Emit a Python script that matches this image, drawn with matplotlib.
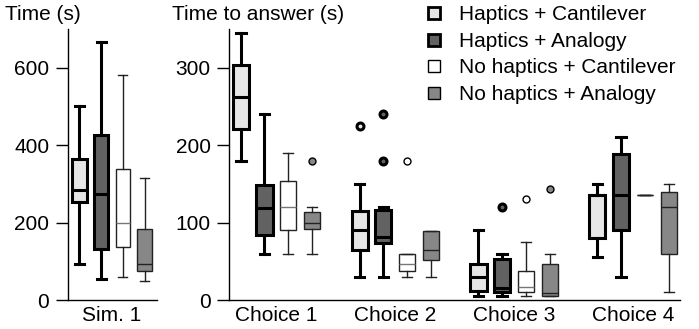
import matplotlib.pyplot as plt
from matplotlib.lines import Line2D

plt.rcParams['font.family'] = ['Liberation Sans', 'DejaVu Sans']

# Conditions (order inside each group)
conditions = ["Haptics + Cantilever", "Haptics + Analogy",
              "No haptics + Cantilever", "No haptics + Analogy"]
fills = ["#e6e6e6", "#626262", "#ffffff", "#878787"]
thick = [True, True, False, False]

# Box statistics: [whislo, q1, med, q3, whishi]
sim1_stats = [[94, 253, 283, 364, 500],
              [55, 131, 274, 427, 667],
              [60, 137, 200, 339, 582],
              [48, 75, 93, 183, 315]]
sim1_fliers = [[], [], [], []]

choice_labels = ["Choice 1", "Choice 2", "Choice 3", "Choice 4"]
choice_stats = [
    [[180, 221, 262, 303, 345],
     [60, 84, 119, 149, 240],
     [60, 90, 120, 154, 190],
     [60, 92, 100, 114, 120]],
    [[30, 64, 90, 115, 150],
     [30, 74, 82, 116, 120],
     [30, 37, 47, 60, 60],
     [30, 52, 64, 89, 89]],
    [[5, 12, 30, 47, 90],
     [5, 10, 15, 53, 60],
     [5, 10, 17, 37, 75],
     [5, 5, 9, 47, 59]],
    [[55, 80, 135, 135, 150],
     [30, 90, 135, 188, 210],
     [135, 135, 135, 135, 135],
     [10, 59, 120, 140, 150]],
]
choice_fliers = [
    [[], [], [], [180]],
    [[225], [180, 240], [180], []],
    [[], [120], [130], [144]],
    [[], [], [], []],
]

offsets = [-0.3, -0.1, 0.1, 0.3]
box_w = 0.135
FS = 15


def draw_group(ax, center, stats, fliers):
    for k in range(4):
        lo, q1, med, q3, hi = stats[k]
        s = dict(whislo=lo, q1=q1, med=med, q3=q3, whishi=hi, fliers=fliers[k])
        lw = 2.2 if thick[k] else 1.0
        ec = "black" if thick[k] else "#222222"
        medc = "#777777" if k == 2 else ec
        if q1 == q3:
            medc = ec
        ax.bxp([s], positions=[center + offsets[k]], widths=box_w,
               patch_artist=True, showfliers=True, capwidths=box_w * 0.6,
               boxprops=dict(facecolor=fills[k], edgecolor=ec, linewidth=lw),
               whiskerprops=dict(color=ec, linewidth=lw),
               capprops=dict(color=ec, linewidth=lw),
               medianprops=dict(color=medc, linewidth=lw),
               flierprops=dict(marker="o", markersize=5, markerfacecolor=fills[k],
                               markeredgecolor="black", markeredgewidth=lw))


def style(ax):
    for sp in ["top", "right"]:
        ax.spines[sp].set_visible(False)
    ax.spines["left"].set_linewidth(1.0)
    ax.spines["bottom"].set_linewidth(1.0)
    ax.tick_params(axis="y", direction="out", length=8.5, width=1.0,
                   labelsize=FS, pad=5)
    ax.tick_params(axis="x", length=0, labelsize=FS, pad=4)


fig = plt.figure(figsize=(6.99, 3.29), dpi=100)

ax1 = fig.add_axes([68 / 699, 29 / 329, 89 / 699, 271 / 329])
draw_group(ax1, 1, sim1_stats, sim1_fliers)
ax1.set_xlim(0.596, 1.413)
ax1.set_ylim(0, 700)
ax1.set_yticks([0, 200, 400, 600])
ax1.set_xticks([1])
ax1.set_xticklabels(["Sim. 1"])
style(ax1)

ax2 = fig.add_axes([229.3 / 699, 29 / 329, 450.7 / 699, 271 / 329])
for i in range(4):
    draw_group(ax2, i + 1, choice_stats[i], choice_fliers[i])
ax2.set_xlim(0.604, 4.395)
ax2.set_ylim(0, 350)
ax2.set_yticks([0, 100, 200, 300])
ax2.set_xticks([1, 2, 3, 4])
ax2.set_xticklabels(choice_labels)
style(ax2)

fig.text(5 / 699, 1 - 15 / 329, "Time (s)", fontsize=FS, va="center", ha="left")
fig.text(172 / 699, 1 - 15 / 329, "Time to answer (s)", fontsize=FS,
         va="center", ha="left")

handles = [Line2D([], [], linestyle="none", marker="s", markersize=8,
                  markerfacecolor=fills[k], markeredgecolor="black",
                  markeredgewidth=2.0 if thick[k] else 1.0) for k in range(4)]
fig.legend(handles, conditions, loc="upper left",
           bbox_to_anchor=(415 / 699, 1 + 3 / 329), frameon=False,
           fontsize=FS, handlelength=1.0, handletextpad=0.7,
           labelspacing=0.36, borderaxespad=0)

fig.savefig("out.png", dpi=100)
